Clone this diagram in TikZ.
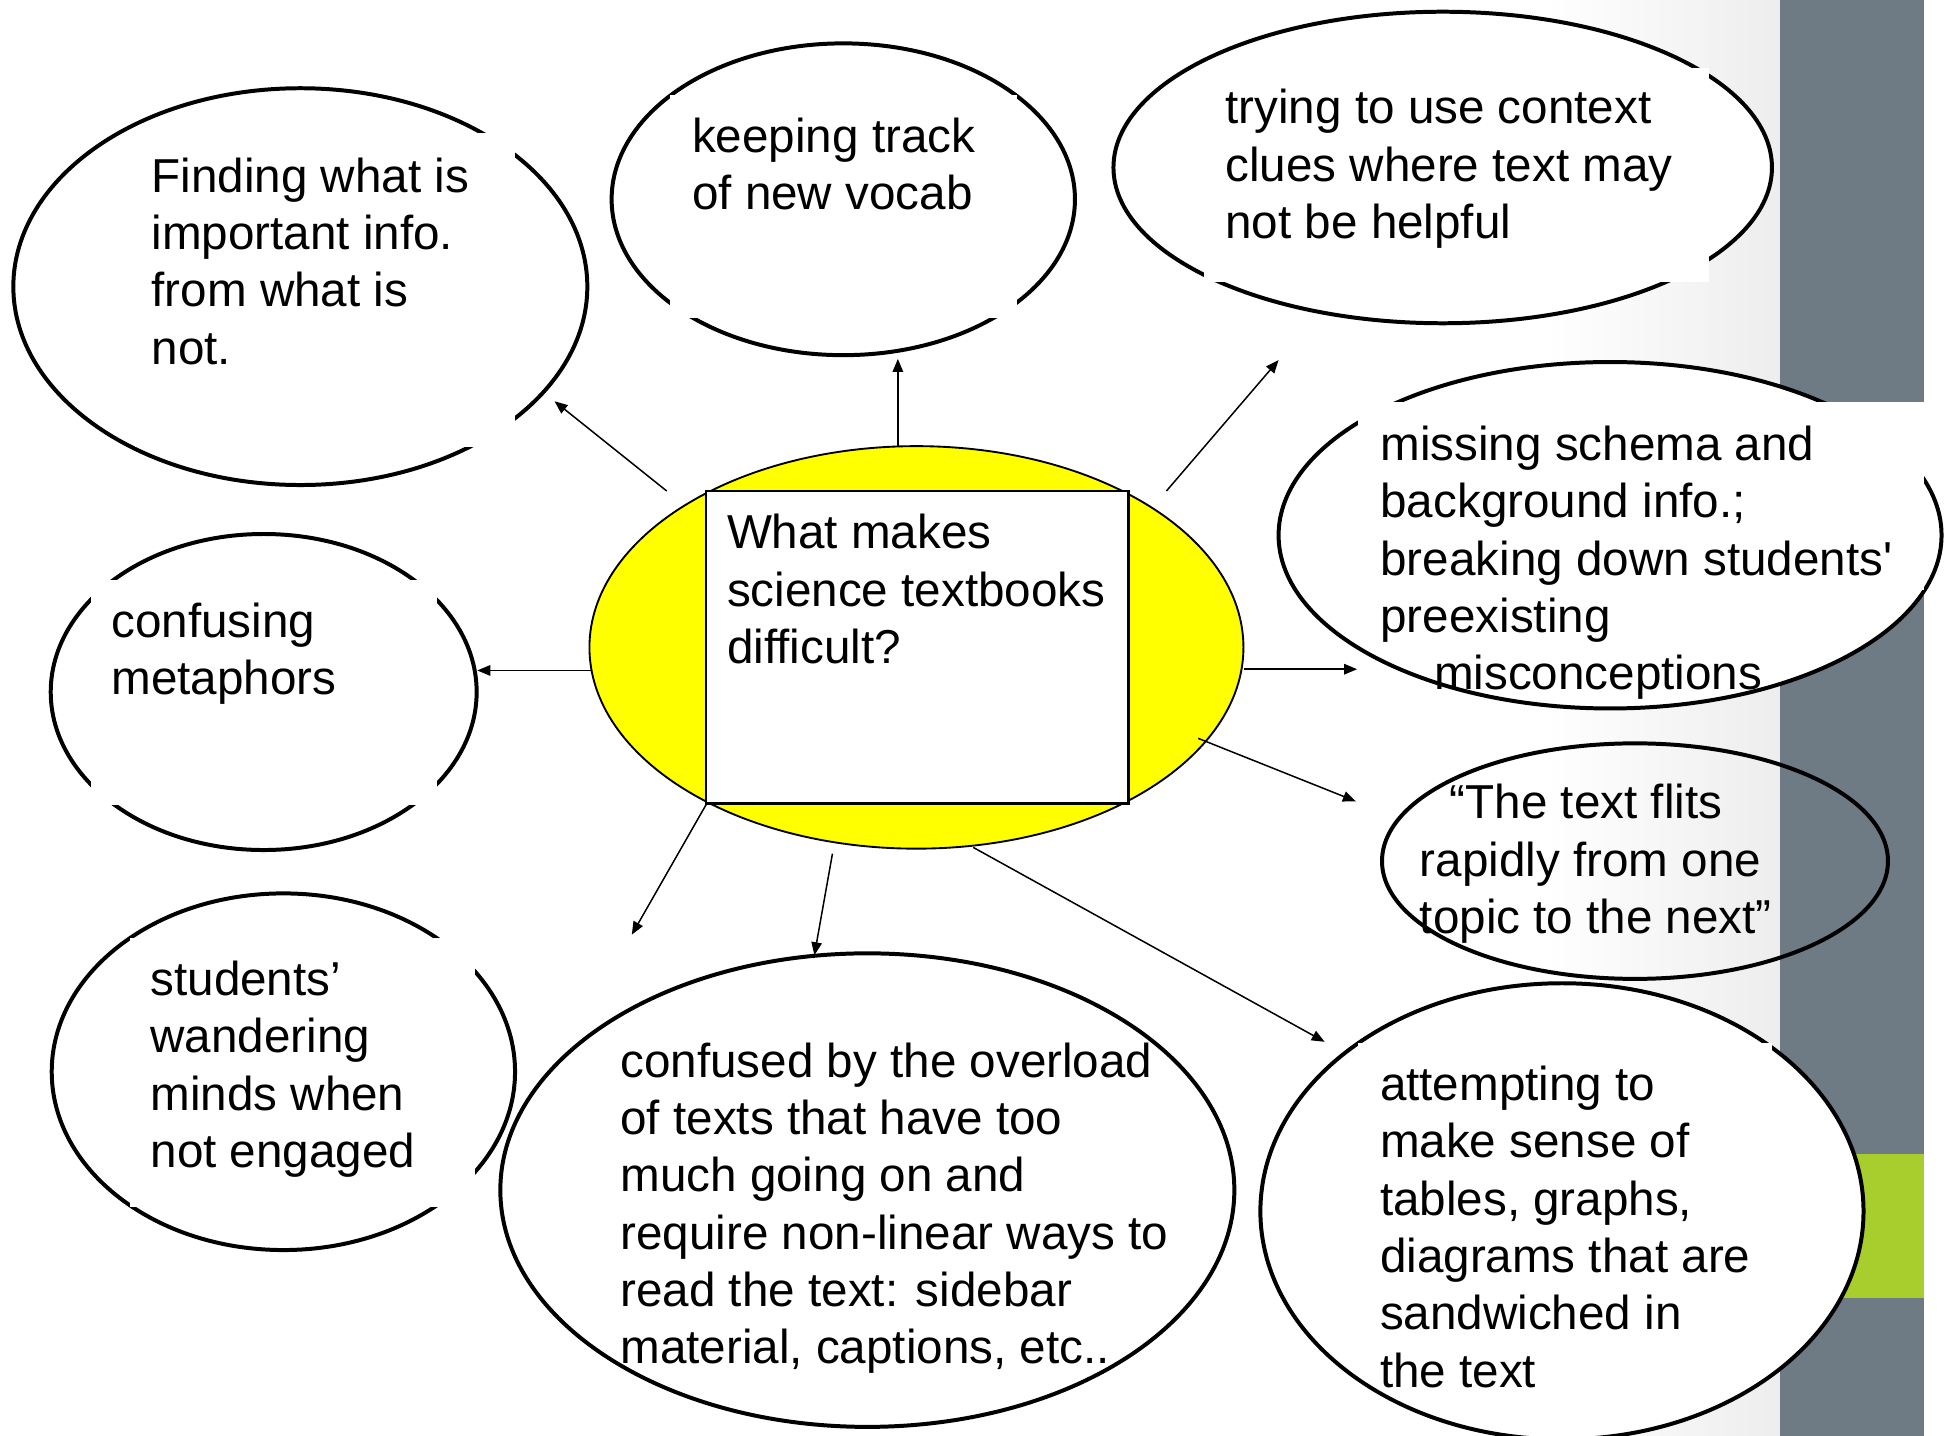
\documentclass[tikz,border=0pt]{standalone}
\usepackage{fontspec}
\newfontfamily\lbf{Liberation Sans}
\usetikzlibrary{shapes.geometric,arrows.meta}
\definecolor{barcol}{HTML}{6E7A84}
\definecolor{grncol}{HTML}{A8CE2E}
\definecolor{ylw}{HTML}{FFFF00}
\begin{document}
\begin{tikzpicture}[x=0.5pt,y=-0.5pt,
  ell/.style={ellipse, draw, line width=1.6pt, fill=white, inner sep=0pt},
  lbl/.style={anchor=north west, inner sep=0pt, align=left, font=\lbf\fontsize{19.1pt}{23pt}\selectfont},
  arr/.style={line width=0.6pt, -{Triangle[length=5.2pt,width=4.2pt]}},
  cover/.style={fill=white}]
\useasboundingbox (0,0) rectangle (1568,1152);
% background
\fill[white] (0,0) rectangle (1568,1152);
\shade[left color=white,right color=black!7] (1240,0) rectangle (1428.4,1152);
\fill[barcol] (1428.4,0) rectangle (1543.9,1152);
\fill[grncol] (1428.4,926) rectangle (1543.9,1041.6);

% Finding
\node[ell, minimum width=230.3pt, minimum height=159.2pt] (e1) at (241,230) {};
\fill[cover] (108,107) rectangle (413,358.4);
\node[lbl] (t1) at (121.3,121.6) {\strut Finding what is\\important info.\\from what is\\not.};

% keeping track
\node[ell, minimum width=185.9pt, minimum height=125.1pt] (e2) at (676.7,159.9) {};
\fill[cover] (537.6,76.2) rectangle (815.8,255.4);
\node[lbl] (t2) at (555,89.5) {\strut keeping track\\of new vocab};

% trying
\node[ell, minimum width=264.2pt, minimum height=125pt] (e3) at (1157.7,134.4) {};
\fill[cover] (966,54.8) rectangle (1371.7,226);
\node[lbl] (t3) at (983,66.8) {\strut trying to use context\\clues where text may\\not be helpful};

% missing schema
\node[ell, minimum width=266pt, minimum height=139pt] (e4) at (1292,429.5) {};
\fill[cover] (1089.5,322.3) rectangle (1543.6,473.4);
\node[lbl] (t4) at (1107.4,336.9) {\strut missing schema and\\background info.;\\breaking down students'\\preexisting\\\hspace*{21.5pt}misconceptions};

% text flits
\node[ell, fill=none, minimum width=203pt, minimum height=94.5pt] (e5) at (1312,691) {};
\node[lbl] (t5) at (1139,624.5) {\strut\hspace*{12pt}“The text flits\\rapidly from one\\topic to the next”};

% attempting
\node[ell, minimum width=242pt, minimum height=183pt] (e6) at (1253.4,972) {};
\fill[cover] (1089.5,837.2) rectangle (1422.3,1095);
\node[lbl] (t6) at (1107,850.5) {\strut attempting to\\make sense of\\tables, graphs,\\diagrams that are\\sandwiched in\\the text};

% students
\node[ell, minimum width=185.9pt, minimum height=143.1pt] (e8) at (227.4,860) {};
\fill[cover] (104.3,753) rectangle (381.2,968.3);
\node[lbl] (t8) at (120.4,766.2) {\strut students’\\wandering\\minds when\\not engaged};

% confused
\node[ell, minimum width=294.5pt, minimum height=190pt] (e7) at (696,955) {};
\node[lbl] (t7) at (497.5,831.8) {\strut confused by the overload\\of texts that have too\\much going on and\\require non-linear ways to\\read the text: sidebar\\material, captions, etc..};

% confusing metaphors
\node[ell, minimum width=170.9pt, minimum height=126.8pt] (e9) at (211.6,555.3) {};
\fill[cover] (73,465.4) rectangle (350.4,646);
\node[lbl] (t9) at (89,478.7) {\strut confusing\\metaphors};

% hub
\node[ellipse, draw, fill=ylw, line width=0.75pt, inner sep=0pt, minimum width=262.4pt, minimum height=161.5pt] (hub) at (735.4,519.5) {};
\node[draw, fill=white, line width=1pt, inner sep=0pt, minimum width=169.6pt, minimum height=125.3pt] (q) at (736,519.3) {};
\node[lbl] (t0) at (583,407.8) {\strut What makes\\science textbooks\\difficult?};

% arrows
\coordinate (a1s) at (535,394);   \coordinate (a1e) at (445,322);
\coordinate (a2s) at (720.5,358); \coordinate (a2e) at (720.5,288);
\coordinate (a3s) at (936,394);   \coordinate (a3e) at (1026,289);
\coordinate (a4s) at (998,537);   \coordinate (a4e) at (1089,537);
\coordinate (a5s) at (961.5,592.5); \coordinate (a5e) at (1088,643);
\coordinate (a6s) at (781,680);   \coordinate (a6e) at (1063,836);
\coordinate (a7s) at (668,685);   \coordinate (a7e) at (653.5,766.5);
\coordinate (a8s) at (567,645);   \coordinate (a8e) at (507,750);
\coordinate (a9s) at (474,538);   \coordinate (a9e) at (383,538);
\foreach \i in {1,...,9} {\draw[arr] (a\i s) -- (a\i e);}
\end{tikzpicture}
\end{document}
